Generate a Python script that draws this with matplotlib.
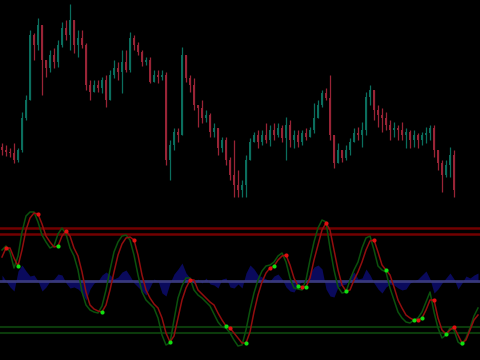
"""Candlestick chart with an oscillator panel underneath (dark terminal style)."""

import numpy as np
import matplotlib
matplotlib.use("Agg")
import matplotlib.pyplot as plt

# --- price panel (one bar every 4 px) ---
first_open = 53
closes = [50, 48, 47, 40, 50, 82, 100, 165, 155, 175, 140, 132, 145, 138, 155, 172, 165, 180, 155, 162,
          155, 115, 108, 115, 112, 120, 100, 125, 132, 128, 138, 130, 162, 155, 148, 138, 140, 118, 125, 123,
          125, 40, 55, 68, 65, 145, 122, 115, 95, 92, 82, 85, 68, 72, 52, 60, 40, 25, 15, 10,
          15, 40, 58, 65, 58, 65, 60, 70, 65, 72, 62, 75, 60, 65, 58, 67, 63, 70, 82, 95,
          107, 102, 65, 37, 50, 42, 50, 58, 67, 65, 70, 103, 110, 90, 85, 82, 75, 70, 72, 70,
          65, 68, 60, 65, 60, 65, 67, 72, 50, 37, 25, 35, 45, 10]
highs = [57, 55, 52, 57, 52, 88, 105, 170, 167, 182, 175, 140, 150, 152, 160, 178, 180, 196, 162, 170,
         170, 157, 120, 120, 120, 123, 125, 130, 140, 138, 150, 150, 168, 165, 158, 150, 143, 143, 130, 130,
         130, 128, 60, 72, 72, 153, 145, 125, 122, 95, 100, 90, 87, 77, 67, 63, 63, 43, 60, 30,
         20, 45, 62, 68, 70, 70, 77, 75, 77, 77, 75, 83, 80, 70, 70, 70, 72, 73, 97, 100,
         110, 112, 125, 65, 57, 50, 55, 62, 72, 73, 78, 108, 115, 105, 95, 92, 88, 80, 78, 75,
         78, 72, 70, 70, 67, 68, 73, 75, 75, 50, 40, 40, 53, 50]
lows = [45, 44, 43, 37, 38, 48, 80, 100, 140, 150, 105, 123, 128, 132, 133, 153, 160, 150, 147, 143,
        152, 110, 100, 108, 108, 107, 93, 118, 122, 120, 107, 128, 128, 150, 145, 134, 135, 117, 118, 117,
        120, 35, 20, 50, 58, 102, 118, 108, 90, 73, 77, 78, 63, 63, 45, 48, 35, 20, 3, 3,
        3, 3, 40, 58, 52, 55, 57, 54, 60, 63, 58, 40, 53, 52, 53, 55, 60, 63, 67, 83,
        93, 100, 60, 32, 37, 38, 40, 45, 58, 60, 53, 65, 95, 80, 73, 68, 70, 60, 63, 60,
        60, 52, 52, 53, 52, 55, 57, 60, 43, 30, 8, 23, 23, 3]

# --- oscillator panel (one sample every 4 px) ---
slow_line = [24, 33, 33, 23, 15, 31, 51, 63, 68, 67, 57, 45, 39, 34, 35, 45, 50, 45, 33, 25,
             9, -11, -24, -28, -30, -31, -24, -9, 9, 26, 37, 43, 44, 41, 26, 6, -9, -17, -23, -27,
             -37, -52, -61, -55, -37, -19, -7, 1, 1, -9, -13, -17, -21, -24, -32, -39, -45, -47, -52, -57,
             -62, -62, -51, -31, -14, -1, 8, 13, 15, 21, 25, 26, 16, 3, -5, -6, -6, 3, 21, 36,
             51, 58, 51, 31, 11, -4, -10, -9, 1, 9, 19, 31, 40, 41, 29, 16, 11, 6, -6, -19,
             -27, -34, -37, -39, -39, -37, -29, -19, -19, -37, -49, -53, -49, -46, -54, -62, -59, -49, -39, -34]
fast_line = [31, 35, 29, 13, 25, 49, 65, 69, 69, 59, 46, 39, 33, 35, 47, 53, 47, 33, 25, 11,
             -11, -24, -29, -31, -32, -25, -9, 11, 29, 39, 45, 46, 41, 26, 6, -11, -19, -23, -27, -37,
             -54, -64, -62, -39, -17, -5, 3, 3, -9, -14, -17, -21, -25, -33, -41, -46, -47, -52, -59, -65,
             -64, -49, -29, -12, 1, 10, 15, 16, 19, 25, 28, 19, 3, -7, -8, -9, 1, 21, 39, 53,
             61, 59, 33, 11, -6, -12, -11, 1, 11, 19, 33, 43, 45, 31, 15, 11, 9, -7, -19, -31,
             -37, -41, -42, -39, -37, -31, -21, -11, -31, -47, -57, -54, -47, -49, -61, -64, -57, -47, -35, -27]
histogram = [6, 0, -6, -10, 10, 16, 10, 5, 6, 0, -10, -6, 0, 2, 7, 6, -2, -7, -6, -8,
             -12, -19, -8, -2, 0, 6, 9, 6, 2, 4, 9, 11, 5, -2, -6, -10, -14, -6, 2, 0,
             -12, -15, -2, 7, 12, 18, 8, 3, -3, 2, -2, 3, -3, -4, -7, 2, 3, -6, -7, -3,
             -7, 8, 16, 12, 6, 4, 2, 0, 5, 7, 2, -6, -10, -11, -4, 0, -2, 8, 14, 16,
             12, -8, -15, -16, -6, -4, -3, 5, 9, 2, 3, 12, 6, -2, -8, -12, -6, -3, -4, -7,
             -9, -8, -2, 0, 2, 6, 10, 2, -12, -8, -2, 3, 8, 2, -8, -2, 5, 3, 6, 8]
sell_signals = [1, 9, 16, 33, 47, 57, 67, 71, 75, 81, 93, 104, 108, 113]
buy_signals = [4, 14, 25, 42, 56, 61, 68, 74, 76, 86, 96, 103, 105, 111, 115]
upper_levels = [53, 47]
lower_levels = [-46, -52]

BULL = "#0b6e5e"
BEAR = "#992436"

fig = plt.figure(figsize=(4.8, 3.6), dpi=100, facecolor="black")
ax_price = fig.add_axes([0, 1 - 200 / 360, 1, 200 / 360])
ax_osc = fig.add_axes([0, 0, 1, 160 / 360])

# candles
opens = [first_open] + closes[:-1]
xb = 2 + 4 * np.arange(len(closes))
for x, o, c, h, l in zip(xb, opens, closes, highs, lows):
    col = BULL if c >= o else BEAR
    ax_price.vlines(x, min(l, o, c), max(h, o, c), color=col, lw=0.9)
    ax_price.bar(x, max(abs(c - o), 1), bottom=min(o, c), width=1.7, color=col, linewidth=0)
ax_price.set_xlim(0, 480)
ax_price.set_ylim(0, 200)

# oscillator
xo = 2 + 4 * np.arange(len(slow_line))
ax_osc.fill_between(xo, 0, histogram, color="#0a0a5c", linewidth=0, zorder=1)
ax_osc.axhline(0, color="#3e3e84", lw=2, alpha=0.9, zorder=2)
for lvl in upper_levels:
    ax_osc.axhline(lvl, color="#720000", lw=1.8, zorder=2)
for lvl in lower_levels:
    ax_osc.axhline(lvl, color="#0b3a0b", lw=1.5, zorder=2)
ax_osc.plot(xo, fast_line, color="#0b520d", lw=1.1, zorder=3)
ax_osc.plot(xo, slow_line, color="#920e0e", lw=1.1, zorder=4)
slow = np.array(slow_line)
ax_osc.scatter(xo[sell_signals], slow[sell_signals], s=9, color="#e01010", zorder=5, linewidths=0)
ax_osc.scatter(xo[buy_signals], slow[buy_signals], s=9, color="#10e010", zorder=5, linewidths=0)
ax_osc.set_xlim(0, 480)
ax_osc.set_ylim(-79, 81)

for ax in (ax_price, ax_osc):
    ax.set_facecolor("black")
    ax.axis("off")

fig.savefig("out.png", dpi=100, facecolor="black")
